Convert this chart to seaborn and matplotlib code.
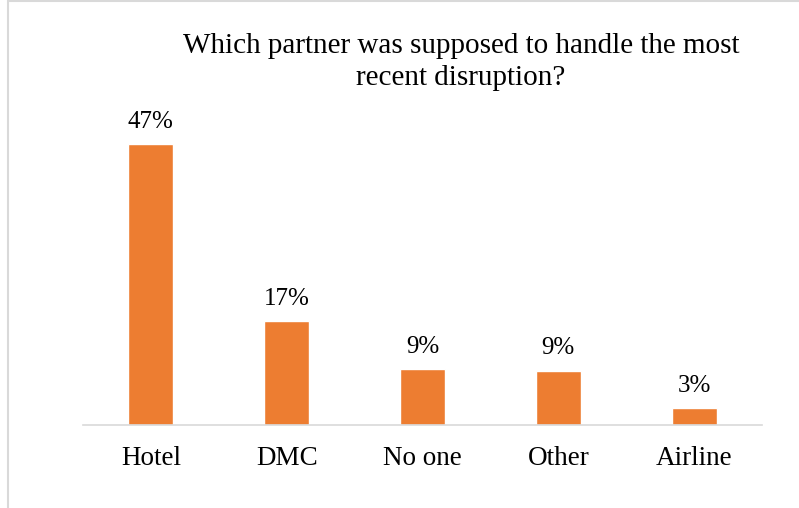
import matplotlib
matplotlib.use("Agg")
import matplotlib.pyplot as plt
import seaborn as sns
import pandas as pd
from matplotlib.patches import Rectangle

# Survey answers and their shares (percent)
partners = ["Hotel", "DMC", "No one", "Other", "Airline"]
shares = [47.0, 17.3, 9.4, 9.1, 2.9]
title = "Which partner was supposed to handle the most\nrecent disruption?"

df = pd.DataFrame({"partner": partners, "share": shares})

sns.set_theme(style="white")
plt.rcParams["font.family"] = ["Liberation Serif", "DejaVu Serif"]

fig = plt.figure(figsize=(7.99, 5.08), dpi=100)
ax = fig.add_axes([83 / 799, 1 - 425 / 508, 679 / 799, 298 / 508])

sns.barplot(data=df, x="partner", y="share", color="#ED7D31", width=0.33,
            saturation=1, ax=ax)

ax.set_ylim(0, 49.8)
ax.set_xlim(-0.5, len(partners) - 0.5)
for s in ["top", "right", "left"]:
    ax.spines[s].set_visible(False)
ax.spines["bottom"].set_color("#D9D9D9")
ax.spines["bottom"].set_linewidth(1.2)
ax.set_yticks([])
ax.set_xlabel("")
ax.set_ylabel("")
ax.tick_params(axis="x", length=0, pad=15, labelsize=19.5, colors="black")

for patch, v in zip(ax.patches, shares):
    ax.annotate(f"{v:.0f}%", (patch.get_x() + patch.get_width() / 2, v),
                xytext=(0, 8), textcoords="offset points",
                ha="center", va="bottom", fontsize=18, color="black")

fig.text(461 / 799, 1 - 62 / 508, title, ha="center", va="center",
         fontsize=21, color="black", linespacing=1.3)

# chart-area frame
fig.patches.append(Rectangle((8 / 799, -0.1), 1.2, 1 - 1.5 / 508 + 0.1,
                             transform=fig.transFigure, fill=False,
                             edgecolor="#D9D9D9", linewidth=1.5))

fig.savefig("out.png", dpi=100)
